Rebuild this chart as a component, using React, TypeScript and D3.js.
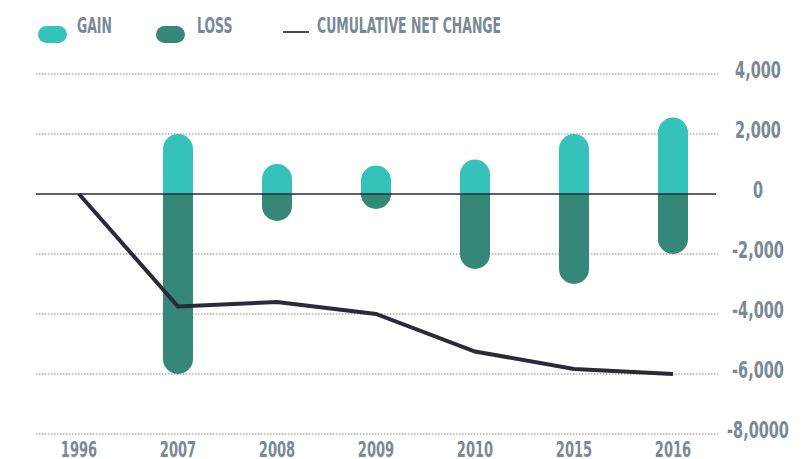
import * as d3 from 'd3';

const years = ['1996', '2007', '2008', '2009', '2010', '2015', '2016'];
const barYears = ['2007', '2008', '2009', '2010', '2015', '2016'];
const gains = [2000, 1000, 950, 1150, 2000, 2550];
const losses = [-6000, -900, -500, -2500, -3000, -2000];
const cumulative = [0, -3750, -3600, -4000, -5250, -5830, -6000];
const yTicks = [4000, 2000, 0, -2000, -4000, -6000, -8000];
const yTickLabels = ['4,000', '2,000', '0', '-2,000', '-4,000', '-6,000', '-8,0000'];

const W = 808;
const H = 459;
const GAIN = '#35c2bb';
const LOSS = '#358878';
const LINE = '#2a2a38';
const TEXT = '#7a8a94';
const FONT = '"Liberation Sans Narrow", "DejaVu Sans Condensed", sans-serif';

const BAR_W = 30;

function topRounded(x: number, yTop: number, yBase: number, w: number) {
  const r = Math.min(w / 2, yBase - yTop);
  const p = d3.path();
  p.moveTo(x - w / 2, yBase);
  p.lineTo(x - w / 2, yTop + r);
  p.arcTo(x - w / 2, yTop, x, yTop, r);
  p.arcTo(x + w / 2, yTop, x + w / 2, yTop + r, r);
  p.lineTo(x + w / 2, yBase);
  p.closePath();
  return p.toString();
}

function bottomRounded(x: number, yBase: number, yBot: number, w: number) {
  const r = Math.min(w / 2, yBot - yBase);
  const p = d3.path();
  p.moveTo(x - w / 2, yBase);
  p.lineTo(x - w / 2, yBot - r);
  p.arcTo(x - w / 2, yBot, x, yBot, r);
  p.arcTo(x + w / 2, yBot, x + w / 2, yBot - r, r);
  p.lineTo(x + w / 2, yBase);
  p.closePath();
  return p.toString();
}

function Label({ x, y, sx, size, anchor = 'start', children }: any) {
  return (
    <text
      transform={`translate(${x},${y}) scale(${sx},1)`}
      textAnchor={anchor}
      fontFamily={FONT}
      fontWeight={700}
      fontSize={size}
      fill={TEXT}
    >
      {children}
    </text>
  );
}

export default function App() {
  const x = d3.scalePoint<string>().domain(years).range([79, 673]);
  const y = d3.scaleLinear().domain([-8000, 4000]).range([434, 74]);

  const line = d3
    .line<number>()
    .x((_, i) => x(years[i]) as number)
    .y((d) => y(d));

  return (
    <svg width={W} height={H} style={{ position: 'absolute', left: 0, top: 0 }}>
      <rect width={W} height={H} fill="#fff" />

      {/* legend */}
      <rect x={38} y={26} width={29} height={17} rx={8.5} fill={GAIN} />
      <Label x={77} y={33} sx={0.66} size={21}>GAIN</Label>
      <rect x={156} y={26} width={29} height={17} rx={8.5} fill={LOSS} />
      <Label x={197} y={33} sx={0.66} size={21}>LOSS</Label>
      <line x1={283} x2={309} y1={32} y2={32} stroke="#4a4a58" strokeWidth={2} />
      <Label x={317} y={33} sx={0.66} size={21}>CUMULATIVE NET CHANGE</Label>

      {/* grid */}
      {yTicks.map((t, i) => (
        <g key={t}>
          {t === 0 ? null : (
            <line
              x1={36}
              x2={718}
              y1={y(t)}
              y2={y(t)}
              stroke="#8a8a8a"
              strokeWidth={1}
              strokeDasharray="1.5,1.5"
            />
          )}
          <Label x={758} y={y(t) + 4} sx={0.7} size={23} anchor="middle">
            {yTickLabels[i]}
          </Label>
        </g>
      ))}

      {/* bars */}
      {barYears.map((yr, i) => {
        const cx = x(yr) as number;
        return (
          <g key={yr}>
            <path d={topRounded(cx, y(gains[i]), y(0), BAR_W)} fill={GAIN} />
            <path d={bottomRounded(cx, y(0), y(losses[i]), BAR_W)} fill={LOSS} />
          </g>
        );
      })}

      {/* zero line */}
      <line x1={36} x2={716} y1={y(0)} y2={y(0)} stroke={LINE} strokeWidth={1.5} />

      {/* cumulative line */}
      <path d={line(cumulative) as string} fill="none" stroke={LINE} strokeWidth={4} strokeLinejoin="miter" />

      {/* x labels */}
      {years.map((yr) => (
        <Label key={yr} x={x(yr) as number} y={457} sx={0.66} size={22} anchor="middle">
          {yr}
        </Label>
      ))}
    </svg>
  );
}
